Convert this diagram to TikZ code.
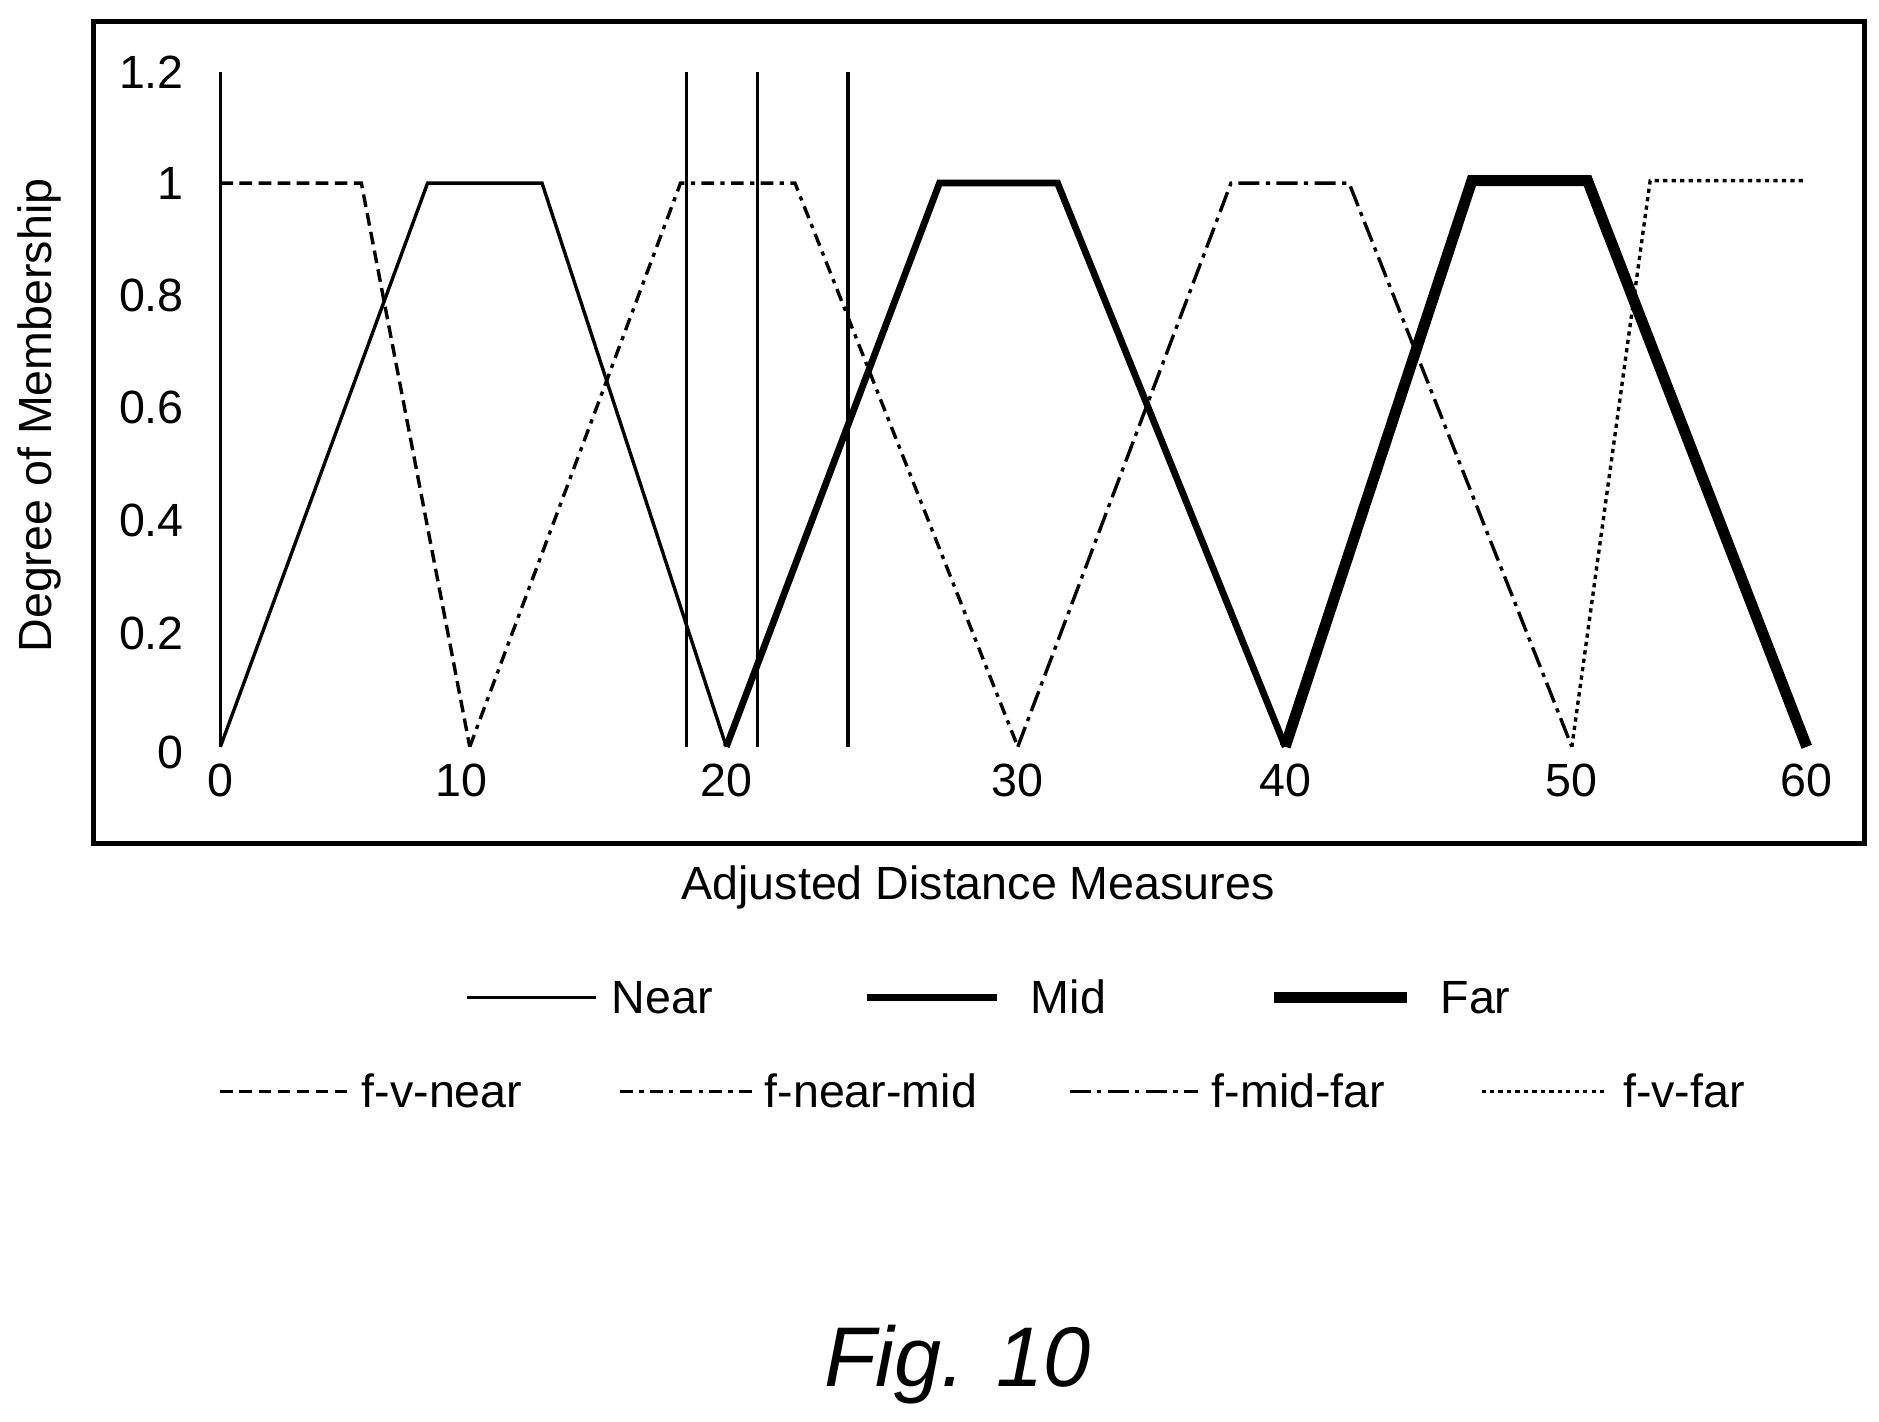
\documentclass[tikz,border=0pt]{standalone}
\usepackage{fontspec}
\setmainfont{Liberation Sans}
\begin{document}
\begin{tikzpicture}[x=0.01cm,y=-0.01cm,
  lbl/.style={font=\fontsize{11}{13}\selectfont},
  near/.style={line width=0.8pt},
  mid/.style={line width=1.6pt},
  far/.style={line width=2.6pt},
  fvnear/.style={line width=0.8pt,dash pattern=on 3pt off 1.5pt},
  fnm/.style={line width=0.8pt,dash pattern=on 3pt off 1.5pt on 1pt off 1.5pt},
  fmf/.style={line width=0.8pt,dash pattern=on 5pt off 1.5pt on 1pt off 1.5pt},
  fvfar/.style={line width=0.8pt,dash pattern=on 1pt off 1pt}]
\useasboundingbox (0,0) rectangle (1560,1180);
\draw[line width=1.2pt] (78,18) rectangle (1548,700);
% axes
\foreach \x in {183,570,629,704} \draw[line width=0.8pt] (\x,60) -- (\x,620);
% y labels
\foreach \y/\t in {60/1.2,152/1,245/0.8,338/0.6,432/0.4,526/0.2,625/0}
  \node[lbl,anchor=east] at (165,\y) {\t};
\foreach \x/\t in {183/0,383/10,603/20,845/30,1067/40,1305/50,1500/60}
  \node[lbl] at (\x,648) {\t};
% curves
\draw[near] (183,620) -- (355,152) -- (450,152) -- (603,620);
\draw[mid] (603,620) -- (780,152) -- (878,152) -- (1067,620);
\draw[far] (1067,620) -- (1222,150) -- (1318,150) -- (1500,620);
\draw[fvnear] (183,152) -- (300,152) -- (390,620);
\draw[fnm] (390,620) -- (565,152) -- (660,152) -- (845,620);
\draw[fmf] (845,620) -- (1022,152) -- (1120,152) -- (1305,620);
\draw[fvfar] (1305,620) -- (1370,150) -- (1497,150);
% titles
\node[lbl,rotate=90] at (33,345) {Degree of Membership};
\node[lbl] at (812,737) {Adjusted Distance Measures};
% legend
\draw[near] (388,828) -- (495,828); \node[lbl] at (550,828) {Near};
\draw[mid] (720,828) -- (828,828); \node[lbl] at (887,828) {Mid};
\draw[far] (1058,828) -- (1168,828); \node[lbl] at (1225,828) {Far};
\draw[fvnear] (183,906) -- (292,906); \node[lbl] at (367,906) {f-v-near};
\draw[fnm] (515,906) -- (625,906); \node[lbl] at (723,906) {f-near-mid};
\draw[fmf] (888,906) -- (995,906); \node[lbl] at (1078,906) {f-mid-far};
\draw[fvfar] (1230,906) -- (1335,906); \node[lbl] at (1398,906) {f-v-far};
\node[font=\fontsize{20}{24}\selectfont\itshape] at (795,1133) {Fig. 10};
\end{tikzpicture}
\end{document}
